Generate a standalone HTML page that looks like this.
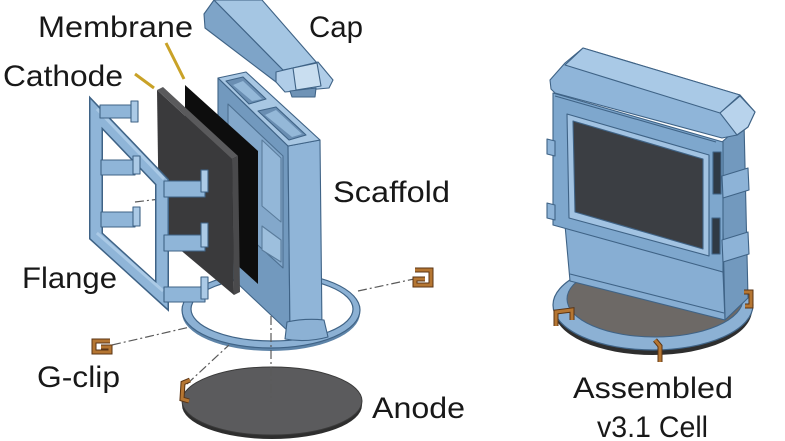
<!DOCTYPE html>
<html><head><meta charset="utf-8"><style>
html,body{margin:0;padding:0;background:#fff;}
svg{display:block}
text{font-family:"Liberation Sans",sans-serif;fill:#181818;font-size:30px;}
</style></head><body>
<svg width="785" height="441" viewBox="0 0 785 441" xmlns="http://www.w3.org/2000/svg">
<rect width="785" height="441" fill="#fff"/>

<!-- ===== Exploded view ===== -->
<!-- Anode -->
<ellipse cx="272" cy="405" rx="90" ry="34" fill="#2e2e2e"/>
<ellipse cx="272" cy="401" rx="90" ry="34" fill="#5b5b5d" stroke="#3a3a3a" stroke-width="1"/>

<!-- Ring -->
<ellipse cx="271" cy="313" rx="89" ry="38" fill="#5e84a8"/>
<ellipse cx="271" cy="310" rx="89" ry="38" fill="#8cb1d4" stroke="#3f6386" stroke-width="1.2"/>
<ellipse cx="272" cy="309" rx="81" ry="32" fill="#fff" stroke="#3f6386" stroke-width="1.2"/>

<!-- dash-dot axes -->
<g stroke="#5a5a5a" stroke-width="1.2" fill="none" stroke-dasharray="9,3,2,3">
<line x1="112" y1="345" x2="190" y2="327"/>
<line x1="358" y1="291" x2="414" y2="279"/>
<line x1="187" y1="384" x2="229" y2="345"/>
<line x1="271" y1="316" x2="271" y2="402"/>
<line x1="135" y1="202" x2="160" y2="199"/>
</g>

<!-- Scaffold -->
<g stroke="#3f6386" stroke-width="1.1" stroke-linejoin="round">
<polygon points="218,78 288,146 290,333 218,265" fill="#7299be"/>
<polygon points="228,104 283,156 283,268 228,218" fill="#83a8cb" stroke="#4d7091"/>
<polygon points="262,140 281,158 281,222 262,206" fill="#93b7d8" stroke="#5a7c9c"/>
<polygon points="262,226 281,240 281,262 262,250" fill="#9dbfdd" stroke="#5a7c9c"/>
<polygon points="288,146 320,140 322,330 290,333" fill="#90b5d8"/>
<path d="M287,322 Q305,318 324,320 L328,337 Q306,343 285,339 Z" fill="#8cb1d4"/>
<polygon points="218,78 246,72 320,140 288,146" fill="#a8c7e3"/>
<polygon points="226,81 243,77 266,99 249,104" fill="#6a8eb2"/>
<polygon points="233,85 243,81 262,99 252,101" fill="#94b8d8" stroke="none"/>
<polygon points="258,111 276,107 306,135 289,140" fill="#6a8eb2"/>
<polygon points="265,115 276,110 302,134 292,137" fill="#94b8d8" stroke="none"/>
</g>

<!-- Membrane -->
<polygon points="185,85 258,151 258,284 185,218" fill="#0d0d0d"/>

<!-- Cathode -->
<polygon points="157,90 232,159 234,295 159,232" fill="#3a3a3c"/>
<polygon points="157,90 163,87 238,156 232,159" fill="#5a5a5c"/>
<polygon points="232,159 238,156 240,292 234,295" fill="#4a4a4c"/>

<!-- Flange frame -->
<g fill="none" stroke-linejoin="miter" stroke-linecap="square">
<path d="M96,113 L162,182 L162,296 L96,236 Z" stroke="#3f6386" stroke-width="14"/>
<path d="M96,113 L162,182 L162,296 L96,236 Z" stroke="#8fb5d8" stroke-width="11"/>
<path d="M98,110 L163,178" stroke="#abcae6" stroke-width="3"/>
<path d="M98,234 L162,290" stroke="#abcae6" stroke-width="3"/>
</g>
<!-- Flange tabs -->
<g stroke="#3f6386" stroke-width="1.1" stroke-linejoin="round">
<rect x="100" y="105" width="33" height="13" fill="#8fb5d8"/>
<rect x="131" y="101" width="7" height="21" fill="#abcae6"/>
<rect x="101" y="160" width="34" height="15" fill="#8fb5d8"/>
<rect x="133" y="156" width="7" height="18" fill="#abcae6"/>
<rect x="101" y="212" width="34" height="15" fill="#8fb5d8"/>
<rect x="133" y="207" width="7" height="19" fill="#abcae6"/>
<rect x="164" y="181" width="41" height="16" fill="#8fb5d8"/>
<rect x="201" y="170" width="7" height="22" fill="#abcae6"/>
<rect x="164" y="235" width="41" height="16" fill="#8fb5d8"/>
<rect x="201" y="223" width="7" height="24" fill="#abcae6"/>
<rect x="164" y="287" width="41" height="15" fill="#8fb5d8"/>
<rect x="201" y="277" width="7" height="22" fill="#abcae6"/>
</g>

<!-- Cap (exploded) -->
<g stroke="#3f6386" stroke-width="1.1" stroke-linejoin="round">
<polygon points="204,14 214,0 283,70 276,82 205,28" fill="#7ea4c8"/>
<polygon points="214,0 262,0 317,63 283,70" fill="#a5c6e3"/>
<polygon points="276,72 318,62 333,80 329,88 285,92 276,82" fill="#b0cde8"/>
<polygon points="293,68 317,63 321,86 296,90" fill="#c9def0"/>
<polygon points="290,91 316,88 315,97 292,97" fill="#6f93b6"/>
</g>

<!-- Clips (exploded) -->
<g fill="none" stroke="#5a3414" stroke-width="5" stroke-linejoin="miter">
<path d="M110,341 L94,341 L94,352 L110,352 L110,347 L101,347"/>
<path d="M415,270 L431,270 L431,285 L415,285 L415,279 L425,279"/>
<path d="M190,380 L183,383 L182,399 L189,401"/>
</g>
<g fill="none" stroke="#b57632" stroke-width="3" stroke-linejoin="miter">
<path d="M110,341 L94,341 L94,352 L110,352 L110,347 L101,347"/>
<path d="M415,270 L431,270 L431,285 L415,285 L415,279 L425,279"/>
<path d="M190,380 L183,383 L182,399 L189,401"/>
</g>

<!-- Leader lines -->
<line x1="135" y1="74" x2="154" y2="88" stroke="#c9a227" stroke-width="3"/>
<line x1="166" y1="43" x2="184" y2="79" stroke="#c9a227" stroke-width="3"/>

<!-- ===== Assembled cell ===== -->
<ellipse cx="653" cy="310" rx="99" ry="45" fill="#2e2e2e"/>
<ellipse cx="653" cy="305" rx="100" ry="45" fill="#8cb1d4" stroke="#3f6386" stroke-width="1.2"/>
<ellipse cx="655" cy="299" rx="88" ry="38" fill="#6d6966" stroke="#3f6386" stroke-width="1"/>

<g stroke="#3f6386" stroke-width="1.1" stroke-linejoin="round">
<!-- side face -->
<polygon points="721,143 744,122 748,298 725,320" fill="#7299be"/>
<!-- lower body -->
<polygon points="565,225 723,272 725,320 570,281" fill="#87aed3"/>
<line x1="570" y1="274" x2="724" y2="313"/>
<!-- frame -->
<polygon points="553,93 723,142 723,272 553,225" fill="#7ea7cd"/>
<polygon points="567,114 709,155 709,256 569,218" fill="#a2c3e2"/>
<polygon points="573,121 703,159 703,249 575,212" fill="#3b3e43"/>
<!-- slots right -->
<rect x="713" y="152" width="8" height="42" fill="#2f3a45"/>
<rect x="712" y="218" width="8" height="36" fill="#2f3a45"/>
<!-- side tabs -->
<polygon points="722,176 748,168 749,190 723,198" fill="#8db3d7"/>
<polygon points="722,240 748,232 749,254 723,262" fill="#8db3d7"/>
<!-- left tabs -->
<polygon points="547,139 555,141 555,156 547,154" fill="#8db3d7"/>
<polygon points="547,203 555,205 555,220 547,218" fill="#8db3d7"/>
<!-- cap -->
<polygon points="551,89 550,80 565,63 583,48 740,95 755,112 748,127 737,135 722,138 555,93" fill="#8fb5d9"/>
<polygon points="565,65 583,48 740,95 720,113" fill="#a9c9e6"/>
<polygon points="720,113 740,96 755,112 748,127 737,135" fill="#b8d3ec"/>
<line x1="555" y1="96" x2="716" y2="142"/>
</g>

<!-- Clips (assembled) -->
<g fill="none" stroke="#5a3414" stroke-width="5" stroke-linejoin="miter">
<path d="M556,326 L556,312 L572,310 L572,320"/>
<path d="M655,340 L660,346 L660,362"/>
<path d="M744,292 L751,292 L751,306 L745,306"/>
</g>
<g fill="none" stroke="#b57632" stroke-width="3" stroke-linejoin="miter">
<path d="M556,326 L556,312 L572,310 L572,320"/>
<path d="M655,340 L660,346 L660,362"/>
<path d="M744,292 L751,292 L751,306 L745,306"/>
</g>

<!-- Labels -->
<text x="38" y="37" textLength="155" lengthAdjust="spacingAndGlyphs">Membrane</text>
<text x="309" y="37" textLength="54" lengthAdjust="spacingAndGlyphs">Cap</text>
<text x="3" y="86" textLength="120" lengthAdjust="spacingAndGlyphs">Cathode</text>
<text x="333" y="202" textLength="117" lengthAdjust="spacingAndGlyphs">Scaffold</text>
<text x="22" y="288" textLength="95" lengthAdjust="spacingAndGlyphs">Flange</text>
<text x="37" y="387" textLength="83" lengthAdjust="spacingAndGlyphs">G-clip</text>
<text x="372" y="418" textLength="93" lengthAdjust="spacingAndGlyphs">Anode</text>
<text x="573" y="398" textLength="160" lengthAdjust="spacingAndGlyphs">Assembled</text>
<text x="597" y="437" textLength="111" lengthAdjust="spacingAndGlyphs">v3.1 Cell</text>
</svg>
</body></html>
